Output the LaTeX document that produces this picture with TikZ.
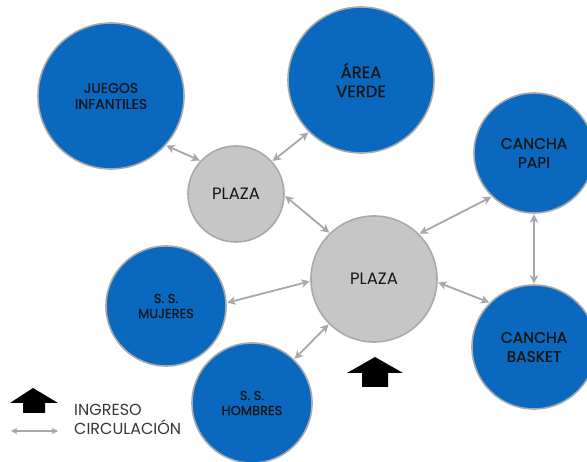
\documentclass[tikz,border=0pt]{standalone}
\usepackage{fontspec}
\setmainfont{Poppins}
\newfontfamily\medfont[FakeBold=0.8]{Poppins}
\usetikzlibrary{arrows.meta}
\definecolor{cblue}{HTML}{0A69BF}
\definecolor{cgrayfill}{HTML}{C6C6C6}
\definecolor{cgrayline}{HTML}{A9A9A9}
\definecolor{carrow}{HTML}{A8A8A8}
\definecolor{ctext}{HTML}{151515}
\tikzset{
  bluec/.style={circle, fill=cblue, draw=cgrayline, line width=1.6pt, inner sep=0pt, minimum size=#1, align=center, text=ctext},
  grayc/.style={circle, fill=cgrayfill, draw=cgrayline, line width=1.6pt, inner sep=0pt, minimum size=#1, align=center, text=ctext, font=\fontsize{16.5}{18}\selectfont},
  conn/.style={draw=carrow, line width=1.8pt, {Stealth[length=8.5pt,width=8.5pt,inset=2.5pt]}-{Stealth[length=8.5pt,width=8.5pt,inset=2.5pt]}, shorten <=0.5pt, shorten >=0.5pt},
  ingreso/.style={fill=black},
  legtext/.style={anchor=west, text=ctext!85, font=\fontsize{16}{18}\selectfont, inner sep=0pt}
}
\begin{document}
\begin{tikzpicture}[x=1pt,y=-1pt]
\useasboundingbox (0,0) rectangle (587,462);
\fill[white] (0,0) rectangle (587,462);
\node[bluec=146pt, font=\medfont\fontsize{14}{16}\selectfont] (juegos) at (111,96) {JUEGOS\\INFANTILES};
\node[bluec=146pt, font=\medfont\fontsize{16.5}{19}\selectfont] (area) at (361,80) {ÁREA\\VERDE};
\node[grayc=96pt] (plazaS) at (236,194) {PLAZA};
\node[grayc=126pt] (plazaB) at (374,279) {PLAZA};
\node[bluec=120pt, font=\medfont\fontsize{15.5}{19}\selectfont] (papi) at (534,153) {CANCHA\\PAPI};
\node[bluec=124pt, font=\medfont\fontsize{15.5}{19}\selectfont] (basket) at (534,347) {CANCHA\\BASKET};
\node[bluec=120pt, font=\medfont\fontsize{13}{15}\selectfont] (muj) at (166,306) {S. S.\\MUJERES};
\node[bluec=120pt, font=\medfont\fontsize{13}{15}\selectfont] (hom) at (252,403) {S. S.\\HOMBRES};

\draw[conn] (juegos.-42) -- (plazaS.137);
\draw[conn] (area.225) -- (plazaS.42);
\draw[conn] (plazaS.-2) -- (plazaB.134);
\draw[conn] (plazaB.45) -- (papi.226);
\draw[conn] (papi.-90) -- (basket.90);
\draw[conn] (plazaB.-3) -- (basket.135);
\draw[conn] (muj.3) -- (plazaB.182);
\draw[conn] (hom.46) -- (plazaB.225);

% ingreso arrow
\fill[ingreso] (375,357) -- (403,373) -- (388,373) -- (388,387) -- (362,387) -- (362,373) -- (347,373) -- cycle;
% legend
\fill[ingreso] (33,388) -- (58,403) -- (45,403) -- (45,413) -- (23,413) -- (23,403) -- (10,403) -- cycle;
\coordinate (la) at (11,431);
\coordinate (lb) at (58,431);
\draw[draw=carrow, line width=1.5pt, {Stealth[length=6.5pt,width=6.5pt,inset=2pt]}-{Stealth[length=6.5pt,width=6.5pt,inset=2pt]}] (la) -- (lb);
\node[legtext] (ting) at (74,409.5) {INGRESO};
\node[legtext] (tcir) at (74,427.5) {CIRCULACIÓN};
\end{tikzpicture}
\end{document}
